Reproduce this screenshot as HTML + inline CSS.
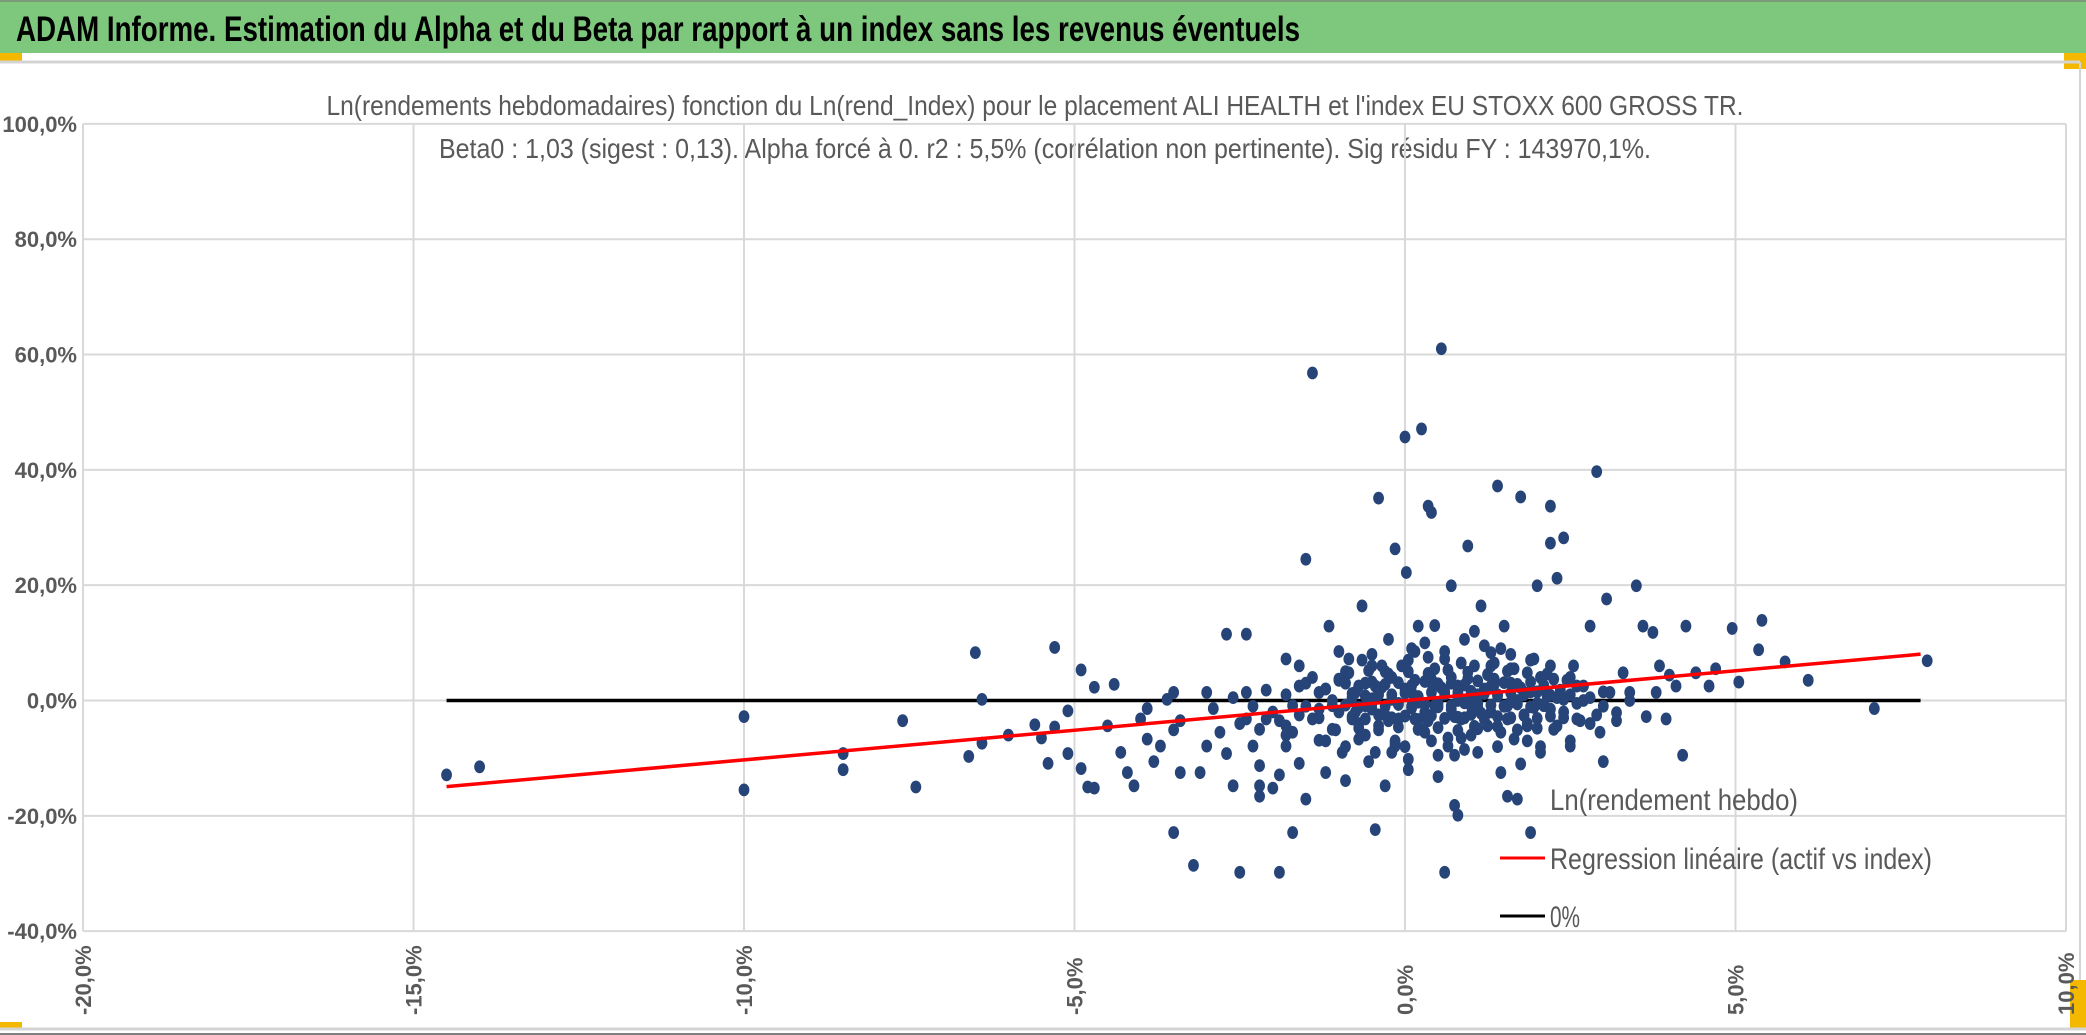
<!DOCTYPE html>
<html><head><meta charset="utf-8"><style>
html,body{margin:0;padding:0;background:#fff;}
svg{display:block;}
text{font-family:"Liberation Sans Narrow","Liberation Sans",sans-serif;}
</style></head><body>
<svg id="chart" width="2086" height="1035" viewBox="0 0 2086 1035" xmlns="http://www.w3.org/2000/svg">
<rect x="0" y="0" width="2086" height="1035" fill="#fff"/>
<rect x="0" y="0" width="2086" height="53" fill="#7ec87e"/>
<line x1="0" y1="1" x2="2086" y2="1" stroke="#7a9a7a" stroke-width="2"/>
<text x="16" y="41" font-size="35" font-weight="bold" fill="#000" textLength="1284" lengthAdjust="spacingAndGlyphs">ADAM Informe. Estimation du Alpha et du Beta par rapport à un index sans les revenus éventuels</text>
<rect x="0" y="53" width="22" height="8" fill="#f5b800"/>
<rect x="2064" y="53" width="22" height="16" fill="#f5b800"/>
<line x1="0" y1="62" x2="2080" y2="62" stroke="#d4d4d4" stroke-width="3"/>
<line x1="2080" y1="62" x2="2080" y2="1028" stroke="#d4d4d4" stroke-width="2"/>
<rect x="2070" y="980" width="16" height="48" fill="#f5b800"/>
<rect x="0" y="1022" width="22" height="8" fill="#f5b800"/>
<line x1="0" y1="1029" x2="2086" y2="1029" stroke="#d4d4d4" stroke-width="3"/>
<line x1="0" y1="1034" x2="2086" y2="1034" stroke="#808080" stroke-width="2"/>
<text x="1035" y="115" font-size="28" fill="#595959" text-anchor="middle" textLength="1417" lengthAdjust="spacingAndGlyphs">Ln(rendements hebdomadaires) fonction du Ln(rend_Index) pour le placement ALI HEALTH et l'index EU STOXX 600 GROSS TR.</text>
<text x="1045" y="158" font-size="28" fill="#595959" text-anchor="middle" textLength="1212" lengthAdjust="spacingAndGlyphs">Beta0 : 1,03 (sigest : 0,13). Alpha forcé à 0. r2 : 5,5% (corrélation non pertinente). Sig résidu FY : 143970,1%.</text>
<g id="grid"></g>
<g id="axes"></g>
<g id="lines"></g>
<g id="dots"></g>
<g id="reg"></g>
<g>
<text x="1550" y="810" font-size="30" fill="#595959" textLength="248" lengthAdjust="spacingAndGlyphs">Ln(rendement hebdo)</text>
<line x1="1500" y1="858" x2="1545" y2="858" stroke="#ff0000" stroke-width="3"/>
<text x="1550" y="869" font-size="30" fill="#595959" textLength="382" lengthAdjust="spacingAndGlyphs">Regression linéaire (actif vs index)</text>
<line x1="1500" y1="916" x2="1545" y2="916" stroke="#000" stroke-width="3"/>
<text x="1550" y="927" font-size="30" fill="#595959" textLength="30" lengthAdjust="spacingAndGlyphs">0%</text>
</g>
</svg>
<script>
const xTicks=[-20,-15,-10,-5,0,5,10];
const yTicks=[100,80,60,40,20,0,-20,-40];
const regX=[-14.5,7.8];
const beta=[1.03];
const zeroX=[-14.5,7.8];
const outX=[-14.5,-14.0,-10.0,-10.0,-8.5,-8.5,-7.6,-7.4,-6.5,-6.4,-6.4,-6.6,-6.0,-5.6,-5.5,-5.4,-5.3,-5.3,-5.1,-5.1,-4.9,-4.9,-4.8,-4.7,-4.7,-4.5,-4.4,-4.3,-4.2,-4.1,-4.0,-3.9,-3.9,-3.8,-3.7,-3.6,-3.5,-3.5,-3.4,-3.4,-3.5,-3.2,-3.1,-3.0,-3.0,-2.9,-2.8,-2.7,-2.7,-2.6,-2.5,-2.4,-2.4,-2.4,-2.3,-2.2,-2.2,-2.2,-2.1,-2.1,-2.0,-1.9,-1.9,-1.8,-1.8,-1.8,-1.7,-1.7,-1.6,-1.6,-1.5,-1.5,-1.4,-1.4,-1.3,-1.3,-1.2,-1.15,-1.1,-1.05,-1.0,-0.95,-0.9,-0.85,-0.8,-0.75,-0.7,-0.65,-0.6,-0.55,-0.5,-0.45,-0.4,-0.4,-0.35,-0.3,-0.25,-0.2,-0.15,-0.15,-0.1,-0.05,0,0.02,0.05,0.1,0.15,0.2,0.25,0.3,0.35,0.4,0.4,0.45,0.5,0.55,0.6,0.6,0.65,0.7,0.75,0.8,0.8,0.85,0.9,0.95,1.0,1.05,1.1,1.15,1.2,1.25,1.3,1.35,1.4,1.45,1.5,1.55,1.55,1.6,1.65,1.7,1.75,1.8,1.85,1.9,1.95,2.0,2.05,2.1,2.2,2.2,2.25,2.3,2.3,2.4,2.4,2.5,2.55,2.6,2.7,2.8,2.9,2.95,3.0,3.05,3.1,3.2,3.3,3.4,3.5,3.6,3.65,3.75,3.8,3.85,3.95,4.0,4.1,4.2,4.25,4.4,4.6,4.7,4.95,5.05,5.4,5.35,5.75,6.1,7.1,7.9];
const outY=[-12.9,-11.5,-2.8,-15.5,-9.2,-12.0,-3.5,-15.0,8.3,0.2,-7.4,-9.7,-6.0,-4.2,-6.5,-10.9,9.2,-4.6,-1.8,-9.2,-11.8,5.3,-15.0,-15.2,2.3,-4.4,2.8,-9.0,-12.5,-14.8,-3.2,-6.7,-1.4,-10.6,-7.9,0.2,1.4,-5.1,-12.5,-3.5,-22.9,-28.6,-12.5,-7.9,1.4,-1.4,-5.5,-9.2,11.5,-14.8,-29.8,-3.2,11.5,1.4,-7.9,-11.3,-14.8,-16.6,-3.2,1.8,-15.2,-12.9,-29.8,7.2,-4.4,-7.9,-22.9,-0.9,2.5,-10.9,-17.1,24.5,56.8,-3.2,-6.9,1.4,-12.5,12.9,-0.9,-5.1,3.7,-9.0,-13.9,7.2,-3.2,1.4,-6.7,16.4,-0.9,-10.6,6.0,-22.4,35.1,-4.4,2.3,-14.8,10.6,0.2,-7.9,26.3,-3.2,6.0,45.7,22.2,-10.2,1.4,-3.2,12.9,47.1,-5.5,33.7,32.6,3.7,-0.9,-13.2,61.0,-29.8,7.2,-7.9,19.9,-18.2,-19.9,1.4,-3.2,10.6,26.8,-0.9,6.0,-9.0,16.4,1.4,-4.4,8.3,3.7,37.2,-12.5,12.9,-16.6,-0.9,5.5,-6.7,-17.1,35.3,1.4,-4.4,-22.9,7.2,19.9,-9.0,-0.9,33.7,27.3,3.7,-4.4,21.2,28.2,0.2,-7.9,6.0,-3.2,2.5,12.9,39.7,-5.5,-10.6,17.6,1.4,-2.1,4.8,1.4,19.9,12.9,-2.8,11.8,1.4,6.0,-3.2,4.4,2.5,-9.5,12.9,4.8,2.5,5.5,12.5,3.2,13.9,8.8,6.7,3.5,-1.4,6.9];
const clX=[-1.5,-1.2,-1,-0.8,-0.7,-0.6,-0.5,-0.4,-0.3,-0.2,-0.1,0,0.1,0.2,0.3,0.4,0.5,0.6,0.7,0.8,0.9,1,1.1,1.2,1.3,1.4,1.5,1.6,1.7,1.8,1.9,2,2.1,2.2,2.3,2.4,2.5,2.6,2.8,3,-1.4,-1.1,-0.9,-0.6,-0.35,-0.15,0.05,0.25,0.45,0.65,0.85,1.05,1.25,1.45,1.65,1.85,2.05,2.25,2.45,2.65,-1.3,-1,-0.75,-0.45,-0.25,0.15,0.35,0.55,0.75,0.95,1.15,1.35,1.55,1.75,1.95,2.15,2.35,-2,-1.8,-1.7,-2.3,-2.5,-2.6,0.1,0.3,0.6,0.9,1.2,-0.2,0.5,1.6,1.9,2.2,-0.5,-1,0,1.4,0.2,0.7,1,1.3,-0.3,0.4,0.8,1.1,0.2,-0.5,1.6,2.6,2.9,3.2,3.4,-1.6,-1.2,-0.9,0.05,0.45,1.05,1.75,2.5];
const clY=[-1,2,-2,0.5,-4,3,-1.5,1,-2.5,4,-0.5,2,-1,0.5,-2,3,-0.5,1.5,-1.5,2.5,-3,0.5,-0.5,2,-2,1,-1,3,0,-2.5,1.5,-0.5,2,-1.5,0.5,-3,1,-0.5,0.5,-1,4,-5,5,-6,6,-7,7,-5,5.5,-6.5,6.5,-4.5,4.5,-5.5,5.5,-4,4,-5,3.5,-3.5,-3,3.5,-2,2.5,-3.5,3.5,-3.5,2.2,-2.8,3.8,-2.2,2.8,-3.2,2.2,-1.2,0.8,1.8,-2,1,-5.5,-1,-4,0.5,9,10,8.5,-8.5,9.5,-9,-9.5,8,7,6,8,8.5,-8,-8,-5,4,-6,6,5,-7,0,1,-0.3,0.3,-0.3,2.5,-2.5,-3.5,0,6,-7,-8,-12,13,12,-11,-7];
const denseX=[-0.9,-0.7,-0.5,-0.3,-0.1,0.1,0.3,0.5,0.7,0.9,1.1,1.3,1.5,1.7,1.9,2.1,-0.8,-0.6,-0.4,-0.2,0,0.2,0.4,0.6,0.8,1,1.2,1.4,1.6,1.8,2,2.2,-0.9,-0.7,-0.5,-0.3,-0.1,0.1,0.3,0.5,0.7,0.9,1.1,1.3,1.5,1.7,1.9,2.1,-0.8,-0.6,-0.4,-0.2,0,0.2,0.4,0.6,0.8,1,1.2,1.4,1.6,1.8,2,2.2,-0.85,-0.55,-0.25,0.05,0.35,0.65,0.95,1.25,1.55,1.85,2.15,-0.7,-0.4,-0.1,0.2,0.5,0.8,1.1,1.4,1.7,2.0,-1.1,-1.3,-1.6,-1.9,-2.2,-1.2,-1.5,-1.8,2.4,2.7,3.0,2.5,2.8,-0.65,-0.15,0.35,0.85,1.35,1.85,-0.45,0.15,0.75,1.45,2.05];
const denseY=[3,2.5,3.2,2.8,3.1,2.6,3.3,2.9,3.0,2.7,3.4,2.5,3.1,2.8,3.2,2.6,1.2,0.8,1.5,1.0,1.3,0.7,1.4,1.1,0.9,1.6,1.2,0.8,1.3,1.0,1.5,0.9,-0.8,-1.2,-0.5,-1.0,-0.7,-1.3,-0.6,-1.1,-0.9,-0.4,-1.2,-0.8,-1.0,-0.6,-1.1,-0.7,-2.8,-3.2,-2.5,-3.0,-2.7,-3.3,-2.6,-3.1,-2.9,-2.4,-3.2,-2.8,-3.0,-2.6,-3.1,-2.7,4.8,5.2,4.6,5.0,4.7,5.3,4.9,4.5,5.1,4.8,4.6,-4.8,-5.1,-4.6,-5.0,-4.7,-5.2,-4.9,-4.5,-5.1,-4.8,0,-1.5,-2.5,-3.5,-5,2,3,-6,-2,0,1.5,4,-4,7,-7.5,7.5,-6.5,6.5,-7,-9,8.5,-9.5,9,-8];

const NS='http://www.w3.org/2000/svg';
function xs(v){return 1405+66.1*v;}
function ys(v){return 700.5-5.766*v;}
function mk(tag,attrs,parent){const e=document.createElementNS(NS,tag);for(const k in attrs)e.setAttribute(k,attrs[k]);parent.appendChild(e);return e;}
const grid=document.getElementById('grid'),axes=document.getElementById('axes'),lines=document.getElementById('lines'),dots=document.getElementById('dots'),reg=document.getElementById('reg');
yTicks.forEach(t=>{
  const l=mk('line',{x1:xs(-20),x2:xs(10),y1:ys(t),y2:ys(t),stroke:'#d9d9d9','stroke-width':2},grid);
  
  
  const tx=mk('text',{x:77,y:ys(t)+8,'font-size':22,'font-weight':'bold',fill:'#595959','text-anchor':'end','font-family':'"Liberation Sans",sans-serif'},axes);
  tx.textContent=t.toFixed(1).replace('.',',')+'%';
  
  
});
xTicks.forEach(t=>{
  const l=mk('line',{x1:xs(t),x2:xs(t),y1:ys(100),y2:ys(-40),stroke:'#d9d9d9','stroke-width':2},grid);
  
  
  const X=xs(t)+8,Y=1015;
  const tx=mk('text',{x:X,y:Y,'font-size':22,'font-weight':'bold',fill:'#595959','text-anchor':'start',transform:'rotate(-90 '+X+' '+Y+')','font-family':'"Liberation Sans",sans-serif'},axes);
  tx.textContent=t.toFixed(1).replace('.',',')+'%';
  
  
});
const z=mk('line',{x1:xs(zeroX[0]),x2:xs(zeroX[1]),y1:ys(0),y2:ys(0),stroke:'#000','stroke-width':3.5},lines);


function drawDot(x,y){
  const c=mk('ellipse',{cx:xs(x),cy:ys(y),rx:5.4,ry:6.4,fill:'#264478'},dots);
  
  
}
outX.forEach((x,i)=>drawDot(x,outY[i]));
clX.forEach((x,i)=>drawDot(x,clY[i]));
denseX.forEach((x,i)=>drawDot(x,denseY[i]));
const r=mk('line',{x1:xs(regX[0]),x2:xs(regX[1]),y1:ys(regX[0]*beta[0]),y2:ys(regX[1]*beta[0]),stroke:'#ff0000','stroke-width':3.5},reg);


</script>
</body></html>
